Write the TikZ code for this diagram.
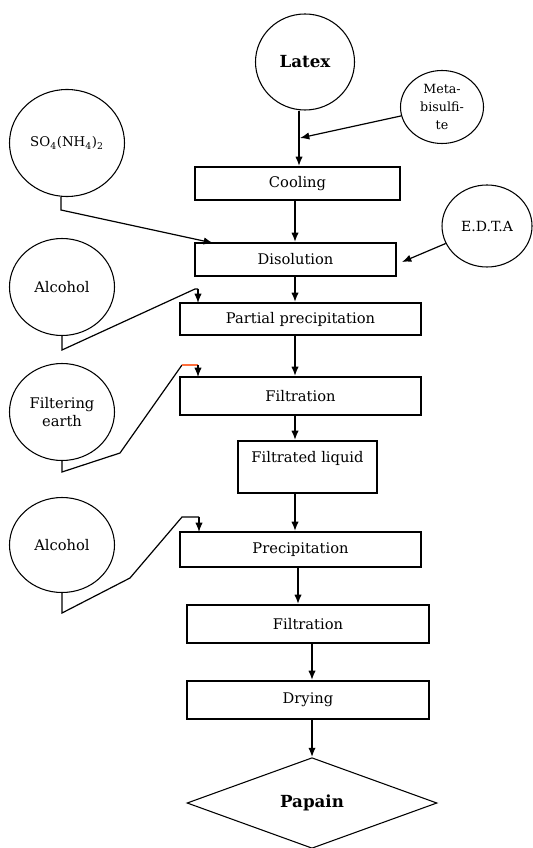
\documentclass[tikz,border=0pt]{standalone}
\usepackage{fontspec}
\setmainfont{DejaVu Serif}
\usetikzlibrary{shapes.geometric,arrows.meta}
\definecolor{tick}{RGB}{255,110,60}
\begin{document}
\begin{tikzpicture}[x=0.75pt,y=-0.75pt,
  box/.style={draw, line width=1.4pt, rectangle, inner sep=0pt, font=\fontsize{11}{14}\selectfont},
  blob/.style={draw, line width=0.8pt, ellipse, inner sep=0pt, align=center, font=\fontsize{11}{14}\selectfont},
  flow/.style={line width=1.2pt, -{Latex[length=7pt,width=5.5pt]}},
  feed/.style={line width=0.9pt, -{Latex[length=7pt,width=5.5pt]}}]
\useasboundingbox (0,0) rectangle (532,848);

% ellipses
\node[blob, minimum width=74.25pt, minimum height=72pt, font=\fontsize{12.5}{15}\selectfont\bfseries] (latex) at (305,62) {Latex};
\node[blob, minimum width=62.25pt, minimum height=54.75pt, font=\fontsize{9.5}{13.5}\selectfont] (meta) at (442,107) {Meta-\\bisulfi-\\te};
\node[blob, minimum width=86.25pt, minimum height=80.25pt, font=\fontsize{10}{12}\selectfont] (so4) at (67,143) {SO\textsubscript{4}(NH\textsubscript{4})\textsubscript{2}};
\node[blob, minimum width=67.5pt, minimum height=61.5pt, font=\fontsize{10.5}{13}\selectfont] (edta) at (487,226) {E.D.T.A};
\node[blob, minimum width=78.75pt, minimum height=72.75pt] (alc1) at (62,287) {Alcohol};
\node[blob, minimum width=78.75pt, minimum height=72.75pt] (fe) at (62,412) {Filtering\\earth};
\node[blob, minimum width=78.75pt, minimum height=71.25pt] (alc2) at (62,545) {Alcohol};

% boxes
\node[box, minimum width=153.75pt, minimum height=24.75pt] (cool) at (297.5,183.5) {Cooling};
\node[box, minimum width=150.75pt, minimum height=24.75pt] (diss) at (295.5,259.5) {Disolution};
\node[box, minimum width=180.75pt, minimum height=24pt] (part) at (300.5,319) {Partial precipitation};
\node[box, minimum width=180.75pt, minimum height=28.5pt] (filt1) at (300.5,396) {Filtration};
\node[box, minimum width=104.25pt, text height=16pt, text depth=23pt] (fliq) at (307.5,467) {Filtrated liquid};
\node[box, minimum width=180.75pt, minimum height=26.25pt] (prec) at (300.5,549.5) {Precipitation};
\node[box, minimum width=181.5pt, minimum height=28.5pt] (filt2) at (308,624) {Filtration};
\node[box, minimum width=181.5pt, minimum height=28.5pt] (dry) at (308,700) {Drying};
\node[draw, diamond, line width=0.8pt, inner sep=0pt, minimum width=187.5pt, minimum height=68pt, font=\fontsize{12.5}{15}\selectfont\bfseries] (pap) at (312,803) {Papain};

% spine coordinates
\coordinate (s1) at (299,0);
\coordinate (s2) at (295,0);
\coordinate (s3) at (298,0);
\coordinate (s4) at (312,0);

% main flow
\draw[flow] (s1 |- latex.south) -- (s1 |- cool.north);
\draw[flow] (s2 |- cool.south) -- (s2 |- diss.north);
\draw[flow] (s2 |- diss.south) -- (s2 |- part.north);
\draw[flow] (s2 |- part.south) -- (s2 |- filt1.north);
\draw[flow] (s2 |- filt1.south) -- (s2 |- fliq.north);
\draw[flow] (s2 |- fliq.south) -- (s2 |- prec.north);
\draw[flow] (s3 |- prec.south) -- (s3 |- filt2.north);
\draw[flow] (s4 |- filt2.south) -- (s4 |- dry.north);
\draw[flow] (s4 |- dry.south) -- (pap.north);

% side feeds
\coordinate (mj) at (300,138);
\draw[feed] (meta) -- (mj);

\coordinate (sa) at (61,210);
\coordinate (sb) at (213,243);
\draw[feed] (so4.south -| sa) -- (sa) -- (sb);

\coordinate (ej) at (402,262);
\draw[feed] (edta) -- (ej);

\coordinate (aa) at (62,350);
\coordinate (ab) at (195,289);
\coordinate (ac) at (198,289);
\coordinate (ad) at (198,303);
\draw[line width=0.9pt] (alc1.south) -- (aa) -- (ab) -- (ac);
\draw[feed] (ac) -- (ad);

\coordinate (fa) at (62,472);
\coordinate (fb) at (120,453);
\coordinate (fc) at (182,365);
\coordinate (fd) at (198,365);
\coordinate (ff) at (198,377);
\draw[line width=0.9pt] (fe.south) -- (fa) -- (fb) -- (fc);
\draw[line width=0.9pt, tick] (fc) -- (fd);
\draw[feed] (fd) -- (ff);

\coordinate (ga) at (62,613);
\coordinate (gb) at (130,578);
\coordinate (gc) at (182,517);
\coordinate (gd) at (199,517);
\coordinate (ge) at (199,532);
\draw[line width=0.9pt] (alc2.south) -- (ga) -- (gb) -- (gc) -- (gd);
\draw[feed] (gd) -- (ge);
\end{tikzpicture}
\end{document}
